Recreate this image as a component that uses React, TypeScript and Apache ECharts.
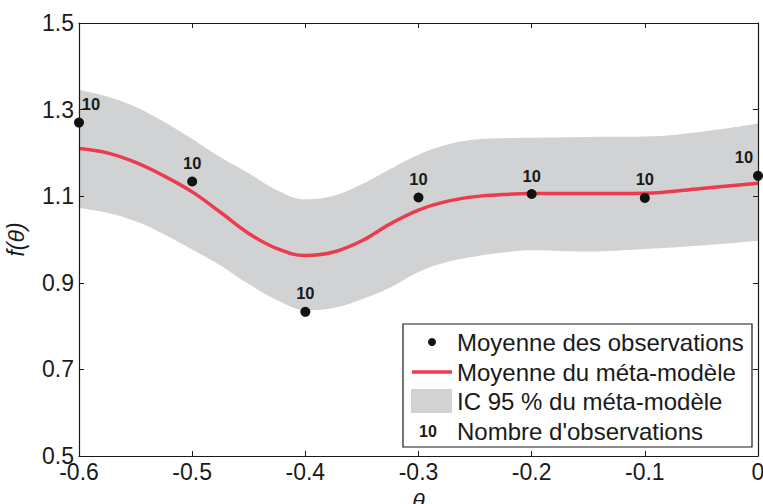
import React, { useEffect, useRef } from "react";
import * as echarts from "echarts";

const curveTheta = [-0.6, -0.575, -0.55, -0.525, -0.5, -0.475, -0.45, -0.425, -0.4, -0.375, -0.35, -0.325, -0.3, -0.275, -0.25, -0.225, -0.2, -0.15, -0.1, -0.05, 0];
const curveMean = [1.21, 1.2, 1.178, 1.147, 1.11, 1.063, 1.014, 0.979, 0.963, 0.971, 0.997, 1.036, 1.068, 1.088, 1.099, 1.104, 1.106, 1.106, 1.107, 1.118, 1.13];
const ciUpper = [1.346, 1.33, 1.306, 1.272, 1.232, 1.19, 1.153, 1.114, 1.093, 1.101, 1.128, 1.163, 1.196, 1.219, 1.231, 1.234, 1.235, 1.237, 1.238, 1.249, 1.268];
const ciLower = [1.073, 1.062, 1.042, 1.012, 0.977, 0.94, 0.897, 0.86, 0.837, 0.842, 0.862, 0.889, 0.925, 0.948, 0.961, 0.97, 0.975, 0.972, 0.978, 0.986, 0.997];

const obsTheta = [-0.6, -0.5, -0.4, -0.3, -0.2, -0.1, 0];
const obsMean = [1.27, 1.134, 0.833, 1.097, 1.105, 1.096, 1.147];
const obsCount = [10, 10, 10, 10, 10, 10, 10];

const xTicks = [-0.6, -0.5, -0.4, -0.3, -0.2, -0.1, 0];
const yTicks = [0.5, 0.7, 0.9, 1.1, 1.3, 1.5];

const legendLabels = [
  "Moyenne des observations",
  "Moyenne du méta-modèle",
  "IC 95 % du méta-modèle",
  "Nombre d'observations",
];

const FONT = "'Liberation Sans', Arial, sans-serif";
const AXIS_COLOR = "#1a1a1a";
const BAND = "#d1d2d4";
const RED = "#ec3b4f";

export default function App() {
  const ref = useRef<HTMLDivElement>(null);
  useEffect(() => {
    if (!ref.current) return;
    const chart = echarts.init(ref.current, null, { renderer: "svg" });
    const lastIdx = obsTheta.length - 1;
    const lx = 403, ly = 324, lw = 349, lh = 123;
    const rowY = [342, 372, 401, 431];
    const axisCommon = {
      z: 10,
      axisLine: { show: true, onZero: false, lineStyle: { color: AXIS_COLOR, width: 1.2 } },
      axisTick: { show: true, inside: true, length: 5, lineStyle: { color: AXIS_COLOR } },
      splitLine: { show: false },
    };
    const option: any = {
      animation: false,
      grid: { left: 79, right: 5, top: 23, bottom: 48, containLabel: false, outerBoundsMode: "none" },
      xAxis: [
        {
          ...axisCommon,
          type: "value",
          min: xTicks[0],
          max: xTicks[xTicks.length - 1],
          interval: 0.1,
          position: "bottom",
          name: "θ",
          nameLocation: "middle",
          nameGap: 33,
          nameTextStyle: { fontFamily: FONT, fontSize: 23, fontStyle: "italic", color: AXIS_COLOR },
          axisLabel: {
            fontFamily: FONT, fontSize: 23, color: AXIS_COLOR, margin: 4,
            formatter: (v: number) => (Math.abs(v) < 1e-9 ? "0" : v.toFixed(1)),
          },
        },
        {
          ...axisCommon,
          type: "value",
          min: xTicks[0],
          max: xTicks[xTicks.length - 1],
          interval: 0.1,
          position: "top",
          axisLabel: { show: false },
        },
      ],
      yAxis: [
        {
          ...axisCommon,
          type: "value",
          min: yTicks[0],
          max: yTicks[yTicks.length - 1],
          interval: 0.2,
          position: "left",
          name: "f(θ)",
          nameLocation: "middle",
          nameGap: 52,
          nameTextStyle: { fontFamily: FONT, fontSize: 23, fontStyle: "italic", color: AXIS_COLOR },
          axisLabel: {
            fontFamily: FONT, fontSize: 23, color: AXIS_COLOR, margin: 5,
            formatter: (v: number) => v.toFixed(1),
          },
        },
        {
          ...axisCommon,
          type: "value",
          min: yTicks[0],
          max: yTicks[yTicks.length - 1],
          interval: 0.2,
          position: "right",
          axisLabel: { show: false },
        },
      ],
      series: [
        {
          name: "IC 95 % du méta-modèle",
          type: "line",
          smooth: 0.4,
          symbol: "none",
          silent: true,
          lineStyle: { width: 0, opacity: 0 },
          areaStyle: { color: BAND, opacity: 1, origin: "start" },
          data: curveTheta.map((x, i) => [x, ciUpper[i]]),
          z: 1,
        },
        {
          name: "ciLowerMask",
          type: "line",
          smooth: 0.4,
          symbol: "none",
          silent: true,
          lineStyle: { width: 0, opacity: 0 },
          areaStyle: { color: "#ffffff", opacity: 1, origin: "start" },
          data: curveTheta.map((x, i) => [x, ciLower[i]]),
          z: 2,
        },
        {
          name: "Moyenne du méta-modèle",
          type: "line",
          smooth: 0.4,
          symbol: "none",
          lineStyle: { color: RED, width: 3.5 },
          data: curveTheta.map((x, i) => [x, curveMean[i]]),
          z: 3,
        },
        {
          name: "Moyenne des observations",
          type: "scatter",
          symbol: "circle",
          symbolSize: 10,
          itemStyle: { color: "#111111", opacity: 1 },
          data: obsTheta.map((x, i) => ({
            value: [x, obsMean[i]],
            label: {
              offset: i === 0 ? [12, 0] : i === lastIdx ? [-14, 0] : [0, 0],
            },
          })),
          label: {
            show: true,
            position: "top",
            distance: 5,
            fontFamily: FONT,
            fontWeight: "bold",
            fontSize: 16.5,
            color: "#1a1a1a",
            opacity: 1,
            formatter: (p: any) => String(obsCount[p.dataIndex]),
          },
          z: 11,
        },
      ],
      graphic: {
        elements: [
          {
            type: "rect",
            z: 100,
            shape: { x: lx, y: ly, width: lw, height: lh },
            style: { fill: "#fff", stroke: "#1a1a1a", lineWidth: 1.2 },
          },
          { type: "circle", z: 101, shape: { cx: 432, cy: rowY[0], r: 4 }, style: { fill: "#111111" } },
          { type: "line", z: 101, shape: { x1: 412, y1: rowY[1], x2: 452, y2: rowY[1] }, style: { stroke: RED, lineWidth: 3.5 } },
          { type: "rect", z: 101, shape: { x: 411, y: rowY[2] - 12, width: 41, height: 24 }, style: { fill: BAND } },
          {
            type: "text",
            z: 101,
            x: 428, y: rowY[3],
            style: { text: "10", fontFamily: FONT, fontWeight: "bold", fontSize: 16, fill: "#1a1a1a", align: "center", verticalAlign: "middle" },
          },
          ...legendLabels.map((t, i) => ({
            type: "text",
            z: 101,
            x: 457,
            y: rowY[i],
            style: { text: t, fontFamily: FONT, fontSize: 24, fill: "#1a1a1a", align: "left", verticalAlign: "middle" },
          })),
        ],
      },
    };
    chart.setOption(option);
    return () => chart.dispose();
  }, []);
  return (
    <div
      ref={ref}
      style={{ position: "fixed", left: 0, top: 0, width: 763, height: 504, background: "#fff" }}
    />
  );
}
